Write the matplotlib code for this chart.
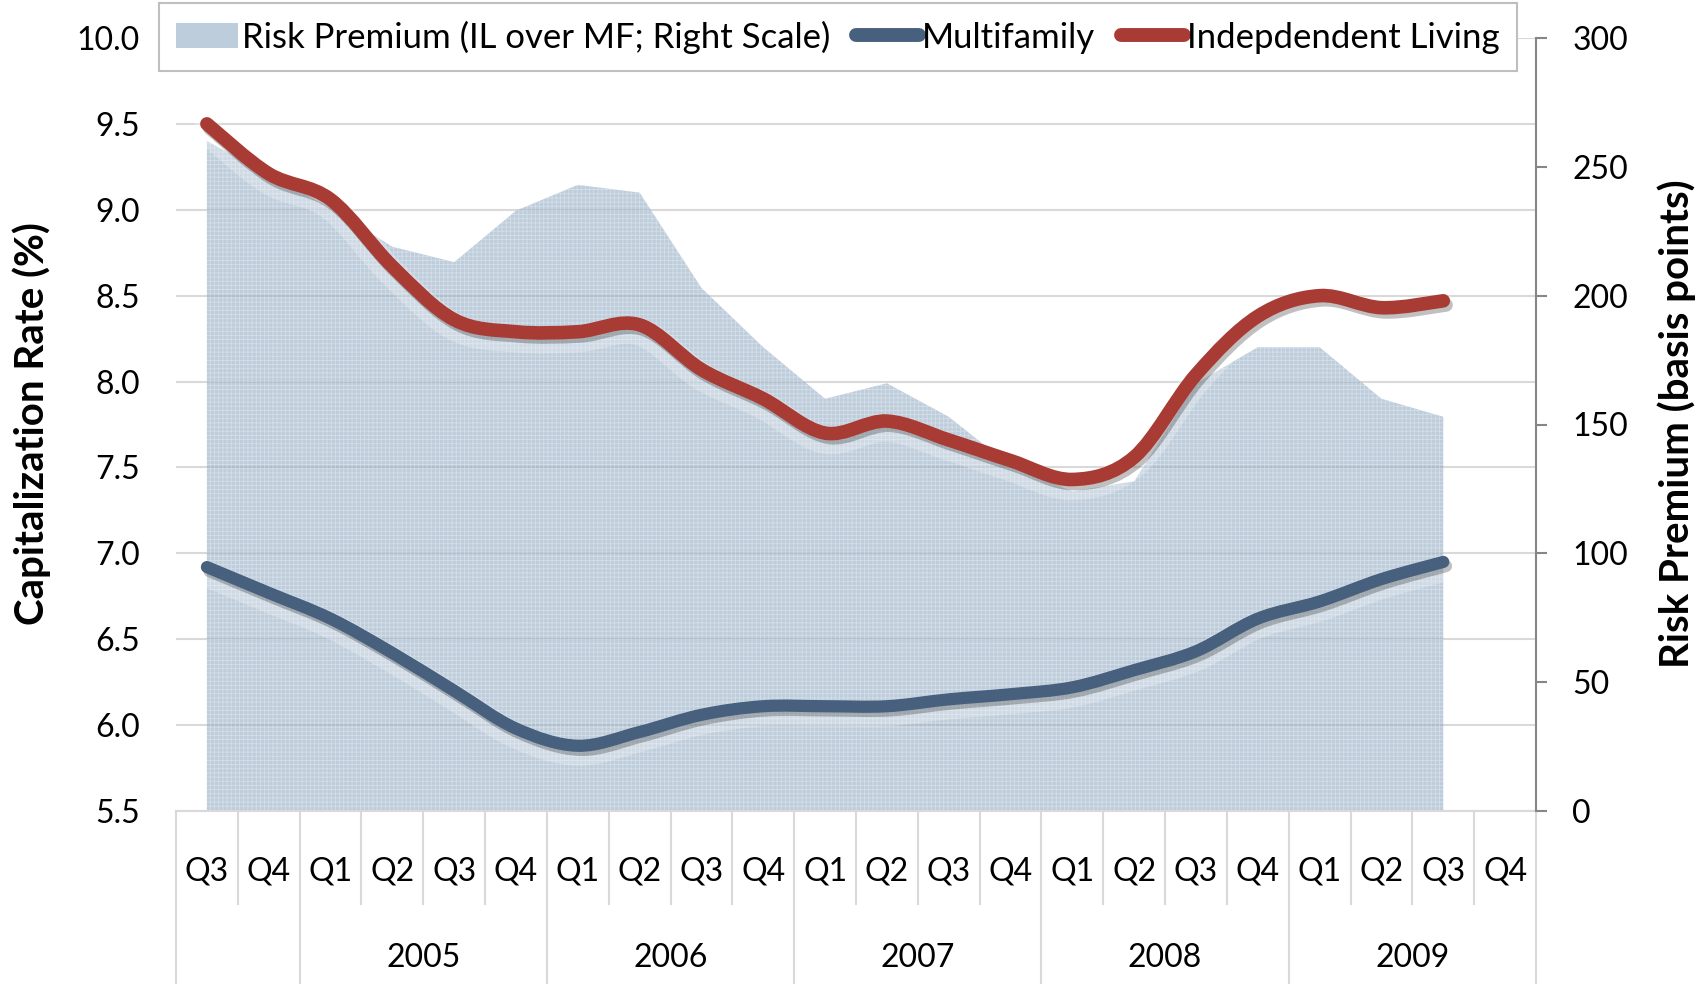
import numpy as np
import matplotlib
matplotlib.use("Agg")
import matplotlib.pyplot as plt
import matplotlib.patheffects as pe
from matplotlib.path import Path
from matplotlib.patches import PathPatch, Patch
from matplotlib.lines import Line2D

plt.rcParams["font.family"] = ["Lato", "DejaVu Sans"]
plt.rcParams["hatch.color"] = (1, 1, 1, 0.35)
plt.rcParams["hatch.linewidth"] = 0.6

# ─── data ──────────────────────────────────────────────────────────────────────
quarters = ["Q3", "Q4",
            "Q1", "Q2", "Q3", "Q4",
            "Q1", "Q2", "Q3", "Q4",
            "Q1", "Q2", "Q3", "Q4",
            "Q1", "Q2", "Q3", "Q4",
            "Q1", "Q2", "Q3", "Q4"]
year_labels = ["", "2005", "2006", "2007", "2008", "2009"]
year_counts = [2, 4, 4, 4, 4, 4]

# cap rates (%), Q3 2004 .. Q3 2009
independent_living = [9.50, 9.21, 9.06, 8.67, 8.36, 8.29, 8.29, 8.33, 8.07, 7.90,
                      7.70, 7.77, 7.66, 7.54, 7.43, 7.56, 8.04, 8.38, 8.50, 8.43, 8.47]
multifamily = [6.92, 6.77, 6.62, 6.42, 6.20, 5.98, 5.88, 5.96, 6.06, 6.11,
               6.11, 6.11, 6.15, 6.18, 6.22, 6.32, 6.43, 6.62, 6.72, 6.85, 6.95]
# risk premium (bp), right scale
risk_premium = [260, 247, 234, 219, 213, 233, 243, 240, 203, 180,
                160, 166, 153, 134, 124, 128, 166, 180, 180, 160, 153]

RED = "#A83B34"
BLUE = "#46607E"
AREA = (148/255, 172/255, 195/255, 0.6)
GRID = "#D9D9D9"


def smooth_path(x, y):
    # Excel-style smoothed line: Catmull-Rom segments as cubic Beziers
    x = np.asarray(x, float); y = np.asarray(y, float)
    n = len(x)
    verts = [(x[0], y[0])]; codes = [Path.MOVETO]
    for i in range(n - 1):
        x0, y0 = (x[i-1], y[i-1]) if i > 0 else (x[i], y[i])
        x3, y3 = (x[i+2], y[i+2]) if i + 2 < n else (x[i+1], y[i+1])
        c1 = (x[i] + (x[i+1] - x0) / 6, y[i] + (y[i+1] - y0) / 6)
        c2 = (x[i+1] - (x3 - x[i]) / 6, y[i+1] - (y3 - y[i]) / 6)
        verts += [c1, c2, (x[i+1], y[i+1])]
        codes += [Path.CURVE4] * 3
    return Path(verts, codes)


fig = plt.figure(figsize=(17.07, 9.84), dpi=100)
ax = fig.add_axes([176/1707, 1 - 811/984, 1360/1707, 773/984])
ax2 = ax.twinx()

xs = np.arange(len(independent_living))

ax.set_xlim(-0.5, len(quarters) - 0.5)
ax.set_ylim(5.5, 10.0)
ax2.set_ylim(0, 300)
ax.set_yticks(np.arange(5.5, 10.01, 0.5))
ax.set_yticklabels([f"{v:.1f}" for v in np.arange(5.5, 10.01, 0.5)])
ax2.set_yticks(np.arange(0, 301, 50))

ax.set_axisbelow(True)
ax.grid(axis="y", color=GRID, lw=1.5)
ax.set_xticks([])

# area on right scale, drawn in left axes so it sits under the lines
ax.fill_between(xs, 0, risk_premium, transform=ax2.transData,
                facecolor=AREA, edgecolor="none", hatch="++++", zorder=1)

for vals, col, lw in [(multifamily, BLUE, 8.8), (independent_living, RED, 9.8)]:
    patch = PathPatch(smooth_path(xs, vals), fill=False, edgecolor=col, lw=lw,
                      capstyle="round", joinstyle="round", zorder=3)
    patch.set_path_effects([
        pe.Stroke(linewidth=lw + 10, foreground="white", alpha=0.25, offset=(0, -5)),
        pe.SimpleLineShadow(offset=(2, -3), shadow_color="#303030", alpha=0.3),
        pe.Normal()])
    ax.add_patch(patch)

for s in ["left", "top", "right"]:
    ax.spines[s].set_visible(False)
ax.spines["bottom"].set_color(GRID); ax.spines["bottom"].set_linewidth(1.5)
for s in ["left", "top", "bottom"]:
    ax2.spines[s].set_visible(False)
ax2.spines["right"].set_color("#868686"); ax2.spines["right"].set_linewidth(1.5)

ax.tick_params(axis="y", length=0, pad=26, labelsize=23)
ax2.tick_params(axis="y", length=8, width=1.5, color="#868686", pad=18, labelsize=23)

# two-level category axis
xt = ax.get_xaxis_transform()
for i, q in enumerate(quarters):
    ax.text(i, -0.078, q, transform=xt, ha="center", va="center", fontsize=23)
bounds = np.concatenate([[0], np.cumsum(year_counts)]) - 0.5
for b in np.arange(-0.5, len(quarters)):
    deep = np.any(np.isclose(b, bounds))
    ax.plot([b, b], [0, -0.224 if deep else -0.12], transform=xt, clip_on=False,
            color=GRID, lw=1.5)
for lab, lo, hi in zip(year_labels, bounds[:-1], bounds[1:]):
    ax.text((lo + hi) / 2, -0.19, lab, transform=xt, ha="center", va="center", fontsize=23)

fig.text(32/1707, 1 - 424/984, "Capitalization Rate (%)", rotation=90,
         ha="center", va="center", fontsize=29, fontweight="bold")
fig.text(1677/1707, 1 - 424/984, "Risk Premium (basis points)", rotation=90,
         ha="center", va="center", fontsize=29, fontweight="bold")

handles = [Patch(facecolor=AREA, edgecolor="none", hatch="++++"),
           Line2D([], [], color=BLUE, lw=10, solid_capstyle="round"),
           Line2D([], [], color=RED, lw=10, solid_capstyle="round")]
labels = ["Risk Premium (IL over MF; Right Scale)", "Multifamily", "Indepdendent Living"]
leg = ax.legend(handles, labels, loc="center", bbox_to_anchor=(838/1707, 1 - 37/984),
                bbox_transform=fig.transFigure, ncol=3, fontsize=25, frameon=True,
                fancybox=False, edgecolor="#BFBFBF", framealpha=1, borderpad=0.5,
                handlelength=1.8, handletextpad=0.1, columnspacing=0.75)
leg.get_frame().set_linewidth(1.5)
leg.set_zorder(10)

fig.savefig("out.png", dpi=100, facecolor="white")
